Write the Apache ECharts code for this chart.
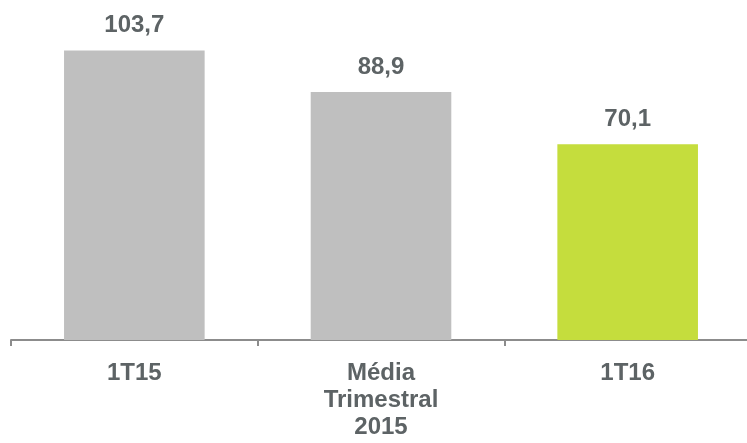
<!DOCTYPE html>
<html><head><meta charset="utf-8">
<script src="https://cdn.jsdelivr.net/npm/echarts@6/dist/echarts.min.js"></script>
<style>html,body{margin:0;padding:0;background:#fff}#c{width:747px;height:443px}</style>
</head><body><div id="c"></div>
<script>
const categories = ['1T15', 'Média\nTrimestral\n2015', '1T16'];
const values = [103.7, 88.9, 70.1];
const colors = ['#BFBFBF', '#BFBFBF', '#C5DD3D'];
const valueLabels = ['103,7', '88,9', '70,1'];

const chart = echarts.init(document.getElementById('c'));
chart.setOption({
  animation: false,
  grid: { left: 11, right: -4, top: 33, bottom: 103, containLabel: false, outerBoundsMode: 'none' },
  xAxis: {
    type: 'category', data: categories,
    axisLine: { lineStyle: { color: '#8C8C8C', width: 2 } },
    axisTick: { show: true, length: 6, lineStyle: { color: '#8C8C8C', width: 2 } },
    axisLabel: { color: '#5D6365', fontFamily: 'Liberation Sans, Arial', fontWeight: 'bold', fontSize: 24, lineHeight: 27, margin: 20, interval: 0 }
  },
  yAxis: { type: 'value', min: 0, max: 110, show: false, splitLine: { show: false } },
  series: [{
    type: 'bar', barCategoryGap: '43%',
    data: values.map((v, i) => ({ value: v, itemStyle: { color: colors[i] } })),
    label: {
      show: true, position: 'top', distance: 13,
      formatter: p => valueLabels[p.dataIndex],
      color: '#5D6365', fontFamily: 'Liberation Sans, Arial', fontWeight: 'bold', fontSize: 24
    }
  }]
});
</script></body></html>
